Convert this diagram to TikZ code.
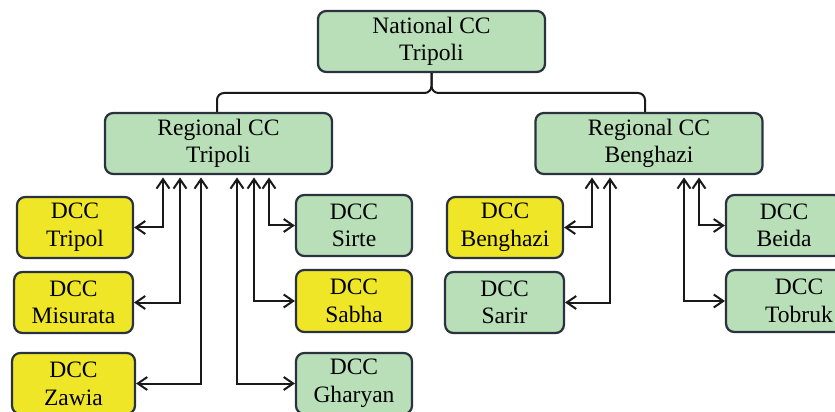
\documentclass[tikz,border=0pt]{standalone}
\usepackage{fontspec}
\setmainfont{Liberation Serif}
\usetikzlibrary{arrows.meta}
\definecolor{boxgreen}{HTML}{B8DFB8}
\definecolor{boxyellow}{HTML}{F0E628}
\definecolor{boxline}{HTML}{2A3240}
\tikzset{
  unit box/.style={draw=boxline, line width=1.9pt, rounded corners=7pt,
    inner sep=0pt, align=center, text=black,
    minimum width=98.6pt, minimum height=51.85pt,
    font=\fontsize{20}{23.5}\selectfont},
  wide box/.style={minimum width=193pt},
  green box/.style={unit box, fill=boxgreen},
  yellow box/.style={unit box, fill=boxyellow},
  link/.style={line width=1.7pt, draw=black!90},
  barb/.tip={Straight Barb[length=8pt,width=11pt,line width=1.7pt]},
  duplex/.style={link, barb-barb, shorten <=2pt}
}
\begin{document}
\begin{tikzpicture}[x=0.85pt,y=-0.85pt]
\useasboundingbox (0,0) rectangle (835,412);
\clip (0,0) rectangle (835,412);

% command centres
\node[green box, wide box] (nat) at (431.5,41.5) {National CC\\Tripoli};
\node[green box, wide box] (rt) at (218.5,143.5) {Regional CC\\Tripoli};
\node[green box, wide box] (rb) at (649,143.5) {Regional CC\\Benghazi};

% district centres under Tripoli
\node[yellow box] (trip) at (75,227.5) {DCC\\Tripol};
\node[yellow box, minimum width=101pt] (mis) at (73.5,302.5) {DCC\\Misurata};
\node[yellow box, minimum width=104.5pt] (zaw) at (73.5,383.5) {DCC\\Zawia};
\node[green box] (sir) at (354,225.5) {DCC\\Sirte};
\node[yellow box, minimum height=52.7pt] (sab) at (354,301) {DCC\\Sabha};
\node[green box] (gha) at (354,383.5) {DCC\\Gharyan};

% district centres under Benghazi
\node[yellow box] (bgz) at (505,227.5) {DCC\\Benghazi};
\node[green box, minimum width=101pt] (sar) at (504.5,302.5) {DCC\\Sarir};
\node[green box] (bei) at (784,225.5) {DCC\\Beida};
\node[green box, minimum width=124pt, minimum height=52.7pt] (tob) at (799,301) {DCC\\Tobruk};

% national to regional
\draw[link, rounded corners=6pt] (217,0 |- rt.north) -- (217,93) -- (nat.south |- 0,93) -- (nat.south);
\draw[link, rounded corners=6pt] (645,0 |- rb.north) -- (645,93) -- (nat.south |- 0,93) -- (nat.south);

% regional to district, Tripoli
\draw[duplex] (163,0 |- rt.south) |- (trip);
\draw[duplex] (180,0 |- rt.south) |- (mis);
\draw[duplex] (201,0 |- rt.south) |- (zaw);
\draw[duplex] (269,0 |- rt.south) |- (sir);
\draw[duplex] (254,0 |- rt.south) |- (sab);
\draw[duplex] (237,0 |- rt.south) |- (gha);

% regional to district, Benghazi
\draw[duplex] (592,0 |- rb.south) |- (bgz);
\draw[duplex] (610,0 |- rb.south) |- (sar);
\draw[duplex] (699,0 |- rb.south) |- (bei);
\draw[duplex] (684,0 |- rb.south) |- (tob);
\end{tikzpicture}
\end{document}
